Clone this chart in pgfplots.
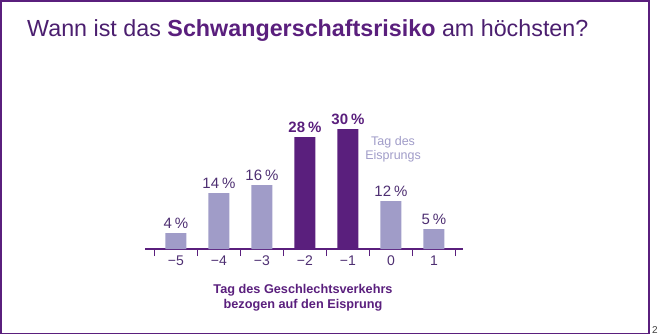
\documentclass[border=0pt]{standalone}
\usepackage{pgfplots}
\pgfplotsset{compat=1.18}
\usepackage{fontspec}
\setmainfont{Liberation Sans}
\setsansfont{Liberation Sans}
\definecolor{darkp}{HTML}{5A1F7D}
\definecolor{lightp}{HTML}{A09CC8}
\definecolor{txtp}{HTML}{4E2F72}
\definecolor{titlep}{HTML}{4B1E6F}
\begin{document}
\begin{tikzpicture}[x=1pt,y=1pt]
\useasboundingbox (0,0) rectangle (660,335);
\draw[darkp, line width=1.3pt] (1,1.5) rectangle (649,334);
\node[anchor=base, font=\fontsize{10}{11}\selectfont, text=black!75] at (655,2) {2};
\node[anchor=base west, inner sep=0pt, text=titlep, font=\fontsize{23.3}{26}\selectfont] at (27,298)
  {Wann ist das \textbf{\color{darkp}Schwangerschaftsrisiko} am höchsten?};
\node[align=center, text=darkp, font=\fontsize{12.7}{15.5}\selectfont\bfseries] at (303,37.5)
  {Tag des Geschlechtsverkehrs\\bezogen auf den Eisprung};
\begin{axis}[
  at={(145pt,86pt)}, anchor=south west,
  x=43pt, y=4pt,
  xmin=-5.72, xmax=1.67, ymin=0, ymax=32,
  axis x line=bottom, axis y line=none,
  axis line style={darkp, line width=1.3pt, -},
  xtick={-5,...,1},
  xticklabels={−5,−4,−3,−2,−1,0,1},
  major tick length=0pt,
  minor xtick={-5.5,-4.5,...,1.5},
  minor tick length=7pt,
  tick align=outside,
  minor tick style={darkp, line width=1.1pt},
  xticklabel style={text=txtp, font=\fontsize{14}{16}\selectfont, yshift=-3pt},
  /pgf/number format/assume math mode=true,
  ybar, bar width=21pt, bar shift=0pt,
  clip=false,
  nodes near coords style={font=\fontsize{15}{17}\selectfont, yshift=1pt},
]
\addplot[fill=lightp, draw=none,
  nodes near coords={\pgfmathprintnumber{\pgfplotspointmeta}\hspace{0.2em}\%},
  every node near coord/.append style={text=txtp}]
  coordinates {(-5,4) (-4,14) (-3,16) (0,12) (1,5)};
\addplot[fill=darkp, draw=none,
  nodes near coords={\textbf{\pgfmathprintnumber{\pgfplotspointmeta}\hspace{0.2em}\%}},
  every node near coord/.append style={text=darkp}]
  coordinates {(-2,28) (-1,30)};
\node[align=center, text=lightp, font=\fontsize{12.5}{14}\selectfont] at (axis cs:0.05,24.9) {Tag des\\Eisprungs};
\end{axis}
\end{tikzpicture}
\end{document}
